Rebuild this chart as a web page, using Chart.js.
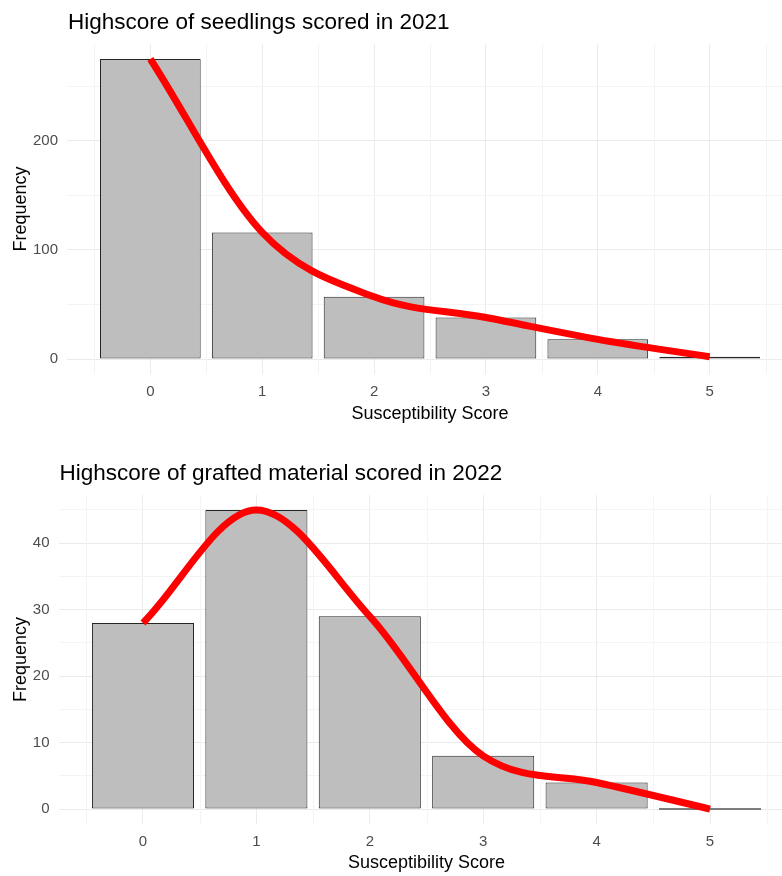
<!DOCTYPE html>
<html>
<head>
<meta charset="utf-8">
<title>Susceptibility scores</title>
<script src="https://cdn.jsdelivr.net/npm/chart.js@4.4.1/dist/chart.umd.min.js"></script>
<style>
  html, body { margin: 0; padding: 0; background: #fff; overflow: hidden; }
  #wrap { position: relative; width: 782px; height: 876px; overflow: hidden; }
  canvas { position: absolute; left: 0; }
</style>
</head>
<body>
<div id="wrap">
  <canvas id="seedlings" width="800" height="440" style="top:0"></canvas>
  <canvas id="grafted" width="800" height="438" style="top:438px"></canvas>
</div>
<script>
// susceptibility score on x, number of plants on y
const scores = [0, 1, 2, 3, 4, 5];
const seedlingCounts = [275, 116, 57, 38, 18, 2];   // 2021 seedlings
const graftedCounts = [28, 45, 29, 8, 4, 0];        // 2022 grafted material

const scoreMinorTicks = [-0.5, 0.5, 1.5, 2.5, 3.5, 4.5, 5.5];
const seedlingTicks = [0, 50, 100, 150, 200, 250];
const seedlingLabels = [0, 100, 200];
const graftedTicks = [0, 5, 10, 15, 20, 25, 30, 35, 40, 45];
const graftedLabels = [0, 10, 20, 30, 40];

const FONT = '"Liberation Sans", Arial, sans-serif';
const GRID_MAJOR = '#ebebeb';
const GRID_MINOR = '#f4f4f4';

// title sits above the panel, flush with its left edge
const panelTitle = {
  id: 'panelTitle',
  afterDraw(chart, args, opts) {
    const { ctx, chartArea } = chart;
    ctx.save();
    ctx.font = '22.5px ' + FONT;
    ctx.fillStyle = '#000';
    ctx.textBaseline = 'alphabetic';
    ctx.fillText(opts.text, chartArea.left + 1, chartArea.top - 15);
    ctx.restore();
  }
};

// vertical lines between the scores (kept out of the tick list so bar width stays 0.9)
const minorGrid = {
  id: 'minorGrid',
  beforeDatasetsDraw(chart, args, opts) {
    const { ctx, chartArea, scales } = chart;
    ctx.save();
    ctx.strokeStyle = GRID_MINOR;
    ctx.lineWidth = 1;
    opts.values.forEach(v => {
      const px = Math.round(scales.x.getPixelForValue(v)) + 0.5;
      ctx.beginPath();
      ctx.moveTo(px, chartArea.top);
      ctx.lineTo(px, chartArea.bottom);
      ctx.stroke();
    });
    ctx.restore();
  }
};

// an empty class still shows as a flat outline on the baseline
const zeroBars = {
  id: 'zeroBars',
  afterDatasetDraw(chart, args) {
    if (args.meta.type !== 'bar') return;
    const ctx = chart.ctx;
    const data = chart.data.datasets[args.index].data;
    ctx.save();
    ctx.strokeStyle = '#555555';
    ctx.lineWidth = 1.5;
    args.meta.data.forEach((bar, i) => {
      if (data[i].y !== 0) return;
      const { x, y, width } = bar.getProps(['x', 'y', 'width'], true);
      ctx.beginPath();
      ctx.moveTo(x - width / 2, y);
      ctx.lineTo(x + width / 2, y);
      ctx.stroke();
    });
    ctx.restore();
  }
};

function makeChart(id, title, counts, yTicks, yLabels, box) {
  const points = scores.map((s, i) => ({ x: s, y: counts[i] }));
  const top = Math.max(...counts);
  const lo = scores[0] - 0.45, hi = scores[scores.length - 1] + 0.45;
  const pad = (hi - lo) * 0.05;

  return new Chart(document.getElementById(id), {
    type: 'bar',
    data: {
      datasets: [
        {
          type: 'line',
          data: points,
          borderColor: '#ff0000',
          borderWidth: 7,
          pointRadius: 0,
          cubicInterpolationMode: 'monotone',
          borderJoinStyle: 'round',
          fill: false,
          order: 0
        },
        {
          type: 'bar',
          data: points,
          backgroundColor: '#bebebe',
          borderColor: '#262626',
          borderWidth: 1,
          borderSkipped: false,
          barPercentage: 0.9,
          categoryPercentage: 1,
          order: 1
        }
      ]
    },
    options: {
      responsive: false,
      animation: false,
      layout: { padding: { top: box.top, right: box.right, bottom: 0, left: 0 } },
      plugins: {
        legend: { display: false },
        tooltip: { enabled: false },
        panelTitle: { text: title },
        minorGrid: { values: scoreMinorTicks }
      },
      scales: {
        x: {
          type: 'linear',
          offset: false,
          min: lo - pad,
          max: hi + pad,
          afterBuildTicks: axis => { axis.ticks = scores.map(v => ({ value: v })); },
          afterFit: axis => { axis.height = box.xHeight; },
          border: { display: false },
          grid: { offset: false, drawTicks: false, color: GRID_MAJOR, lineWidth: 1 },
          ticks: {
            autoSkip: false,
            maxRotation: 0,
            padding: 9,
            color: '#4d4d4d',
            font: { family: FONT, size: 15 }
          },
          title: {
            display: true,
            text: 'Susceptibility Score',
            color: '#000',
            font: { family: FONT, size: 18 },
            padding: { top: 0, bottom: box.xTitlePad }
          }
        },
        y: {
          min: -0.05 * top,
          max: 1.05 * top,
          afterBuildTicks: axis => { axis.ticks = yTicks.map(v => ({ value: v })); },
          afterFit: axis => { axis.width = box.left; },
          border: { display: false },
          grid: {
            drawTicks: false,
            lineWidth: 1,
            color: c => yLabels.includes(c.tick.value) ? GRID_MAJOR : GRID_MINOR
          },
          ticks: {
            autoSkip: false,
            padding: 9,
            color: '#4d4d4d',
            font: { family: FONT, size: 15 },
            callback: v => yLabels.includes(v) ? v : ''
          },
          title: {
            display: true,
            text: 'Frequency',
            color: '#000',
            font: { family: FONT, size: 18 },
            padding: { top: 10, bottom: 0 }
          }
        }
      }
    },
    plugins: [panelTitle, minorGrid, zeroBars]
  });
}

makeChart('seedlings', 'Highscore of seedlings scored in 2021', seedlingCounts,
  seedlingTicks, seedlingLabels, { top: 44, right: 7, left: 67, xHeight: 66, xTitlePad: 15 });
makeChart('grafted', 'Highscore of grafted material scored in 2022', graftedCounts,
  graftedTicks, graftedLabels, { top: 57, right: 5.5, left: 58.5, xHeight: 52, xTitlePad: 2 });
</script>
</body>
</html>
